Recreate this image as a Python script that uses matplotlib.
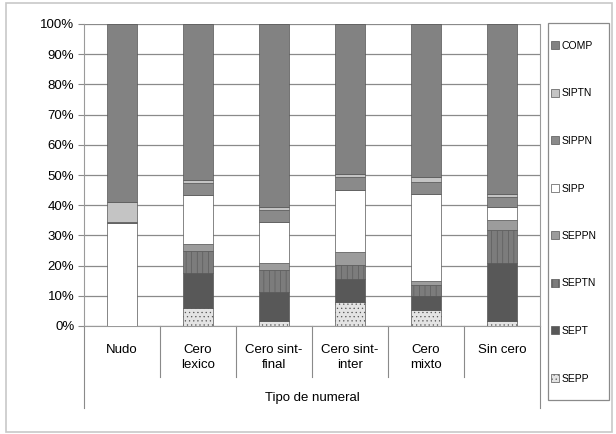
import matplotlib
matplotlib.use('Agg')
import matplotlib.pyplot as plt
import numpy as np
from matplotlib.patches import Rectangle, Patch

plt.rcParams['font.family'] = ['Liberation Sans', 'DejaVu Sans']
plt.rcParams['hatch.linewidth'] = 0.4

# data (percent)
categories = ['Nudo', 'Cero\nlexico', 'Cero sint-\nfinal', 'Cero sint-\ninter', 'Cero\nmixto', 'Sin cero']
SEPP = [0, 6.0, 1.5, 8.0, 5.3, 1.8]
SEPT = [0, 11.6, 9.6, 7.7, 4.6, 19.0]
SEPTN = [0, 7.2, 7.5, 4.4, 3.6, 11.0]
SEPPN = [0, 2.2, 2.2, 4.4, 1.4, 3.3]
SIPP = [34.0, 16.5, 13.5, 20.4, 28.8, 4.4]
SIPPN = [0.5, 3.9, 4.2, 4.4, 4.1, 3.3]
SIPTN = [6.5, 0.8, 1.0, 1.0, 1.5, 0.8]
COMP = [59.0, 51.8, 60.5, 49.7, 50.7, 56.4]

series = [('SEPP', SEPP, '#e4e4e4', '....'),
          ('SEPT', SEPT, '#585858', None),
          ('SEPTN', SEPTN, '#7c7c7c', '|||'),
          ('SEPPN', SEPPN, '#9c9c9c', None),
          ('SIPP', SIPP, 'white', None),
          ('SIPPN', SIPPN, '#8a8a8a', None),
          ('SIPTN', SIPTN, '#c4c4c4', None),
          ('COMP', COMP, '#828282', None)]

fig = plt.figure(figsize=(6.16, 4.34), dpi=100)
ax = fig.add_axes([84/616, 1 - 326/434, 456/616, 302/434])

x = np.arange(len(categories))
bottom = np.zeros(len(categories))
handles = []
for name, vals, col, hat in series:
    vals = np.array(vals)
    ax.bar(x, vals, 0.4, bottom=bottom, color=col, edgecolor='#555555',
           linewidth=0.5, hatch=hat, zorder=3)
    bottom += vals
    handles.append(Patch(facecolor=col, edgecolor='#555555', linewidth=0.5, hatch=hat, label=name))

ax.set_xlim(-0.5, len(categories) - 0.5)
ax.set_ylim(0, 100)
ax.set_yticks(np.arange(0, 101, 10))
ax.set_yticklabels(['%d%%' % v for v in range(0, 101, 10)], fontsize=9.5)
ax.yaxis.grid(True, color='#8a8a8a', linewidth=0.9, zorder=0)
ax.tick_params(axis='y', length=4, color='#8a8a8a', pad=3)
ax.set_xticks([])
for s in ['left', 'right', 'bottom', 'top']:
    ax.spines[s].set_color('#9a9a9a')
ax.spines['top'].set_visible(False)

# two-level category axis
tr = ax.get_xaxis_transform()
for i in range(1, len(categories)):
    ax.plot([i - 0.5, i - 0.5], [0, -0.17], color='#8a8a8a', lw=0.8, transform=tr, clip_on=False)
for xe in [-0.5, len(categories) - 0.5]:
    ax.plot([xe, xe], [0, -0.27], color='#8a8a8a', lw=0.8, transform=tr, clip_on=False)
for i, c in enumerate(categories):
    ax.text(i, -0.058, c, transform=tr, ha='center', va='top', fontsize=9.5, linespacing=1.4)
ax.text(2.5, -0.238, 'Tipo de numeral', transform=tr, ha='center', va='center', fontsize=9.5)

# legend (frame drawn separately)
leg = fig.legend(handles=handles[::-1], loc='upper left', bbox_to_anchor=(551/616, 1 - 41/434),
                 fontsize=7.5, frameon=False,
                 handlelength=0.8, handleheight=0.8, handletextpad=0.2,
                 labelspacing=3.6, borderpad=0, borderaxespad=0)
fig.patches.append(Rectangle((548/616, 1 - 400/434), 61/616, 377/434, transform=fig.transFigure,
                             fill=False, edgecolor='#8a8a8a', linewidth=0.9))

fig.patches.append(Rectangle((6/616, 2/434), 606/616, 429/434, transform=fig.transFigure,
                             fill=False, edgecolor='#c8c8c8', linewidth=1.2))

fig.savefig('out.png', dpi=100)
